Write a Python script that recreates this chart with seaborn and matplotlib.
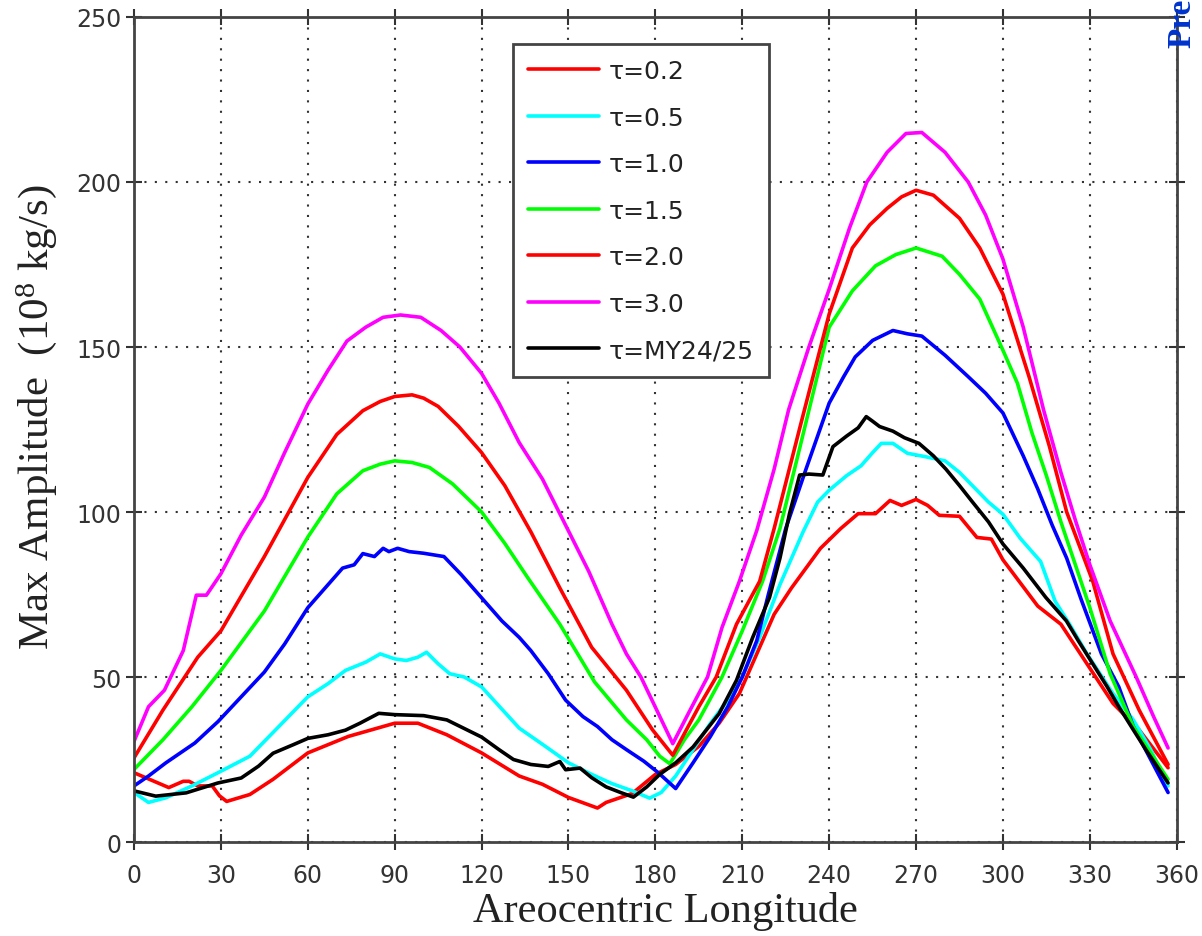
import numpy as np
import pandas as pd
import matplotlib
matplotlib.use("Agg")
import matplotlib.pyplot as plt
import seaborn as sns

# ---------------- data ----------------
labels = ["τ=0.2", "τ=0.5", "τ=1.0", "τ=1.5", "τ=2.0", "τ=3.0", "τ=MY24/25"]
colors = ["#ff0000", "#00ffff", "#0000ff", "#00ff00", "#ff0000", "#ff00ff", "#000000"]

tau02_x = [0, 4, 12, 17, 19, 22, 27, 29.5, 32, 40, 48, 60, 74, 90, 98, 108, 120, 133, 141, 150, 160, 163, 172, 180, 187, 195, 202, 209, 215, 221, 227, 237, 244, 250, 256, 261, 265, 270, 274, 278, 285, 291, 296, 300, 312, 320, 329, 338, 347, 357]
tau02_y = [21, 19.5, 16.5, 18.4, 18.4, 17, 17, 14, 12.3, 14.4, 19, 27, 32, 36, 36, 32.5, 27, 20, 17.5, 13.5, 10.3, 12, 14.7, 20.5, 23.5, 29, 36, 45, 57, 69, 77, 89, 95, 99.5, 99.5, 103.5, 102, 103.8, 102, 99, 98.7, 92.3, 91.8, 85.5, 71.5, 66, 54, 42, 34, 22.5]

tau05_x = [0, 5, 11, 20, 29, 40, 50, 60, 67, 73, 80, 85, 90, 94, 98, 101, 105, 109, 114, 120, 133, 142, 150, 158, 165, 172, 178, 182, 187, 193, 199, 205, 210, 216, 223, 231, 236, 240, 246, 251, 255, 258, 262, 267, 273, 280, 285, 290, 295, 300, 306, 313, 318, 323, 329, 338, 345, 351, 357]
tau05_y = [15, 12, 13.4, 17, 21, 26, 35, 44, 48, 52, 54.5, 57, 55.5, 55, 56, 57.5, 54, 51, 50, 47, 34.5, 29, 24, 20.5, 17.7, 15.5, 13.3, 15, 20, 28, 36, 43, 50, 62, 78, 94, 103, 106.6, 111, 114, 118, 120.8, 120.8, 117.8, 116.8, 115.5, 112, 107.5, 103, 99.3, 92, 85, 73, 66, 57, 45, 37, 28, 17]

tau10_x = [0, 5, 11, 21, 29, 37, 45, 52, 60, 66, 72, 76, 79, 83, 86, 88, 91, 95, 100, 107, 113, 120, 127, 133, 137, 143, 149, 155, 160, 165, 170, 176, 181, 187, 193, 199, 205, 210, 215, 219, 225, 232, 240, 245, 249, 255, 262, 267, 272, 280, 288, 294, 300, 307, 312, 317, 322, 327, 334, 340, 345, 351, 357]
tau10_y = [17, 20, 24, 30, 36.5, 44, 51.5, 60, 71, 77, 83, 84, 87.4, 86.5, 89, 88, 89, 88, 87.5, 86.5, 81, 74, 67, 62, 58, 51, 43, 38, 35, 31, 28, 24.5, 21, 16.2, 24, 32, 41, 50, 61, 75, 95, 113, 133, 141, 147, 152, 155, 154, 153.3, 147.5, 141, 136, 130, 117, 107, 96, 86, 73.5, 57, 47, 35, 25, 15]

tau15_x = [0, 10, 20, 30, 45, 60, 70, 79, 85, 90, 96, 102, 110, 120, 128, 136, 147, 159, 170, 177, 181.5, 185, 190, 195, 203, 210, 217, 223, 230, 240, 248, 256, 263, 270, 279, 285, 292, 300, 305, 310, 315, 320, 325, 330, 337, 345, 351, 357]
tau15_y = [22, 31, 41, 52, 70, 92.4, 105.5, 112.5, 114.5, 115.5, 115, 113.5, 108.5, 100, 90.5, 80, 66, 48.5, 37, 31, 26, 23.7, 31, 37, 50, 64, 79, 95, 120, 156, 167, 174.6, 178, 180, 177.5, 172, 164.5, 149, 139, 124, 111, 97, 84, 71, 51, 35, 27, 19]

tau20_x = [0, 10, 22, 30, 45, 60, 70, 79, 85, 90, 96, 100, 105, 112, 120, 128, 137, 147, 158, 170, 179, 186, 195, 201, 208, 216, 221, 230, 240, 248, 254, 260, 265, 270, 276, 285, 292, 300, 309, 316, 322, 331, 338, 347, 357]
tau20_y = [25.5, 40, 56, 64, 86.5, 110.5, 123.5, 130.7, 133.5, 135, 135.5, 134.5, 132, 126, 118, 108, 94, 77, 59, 46, 34, 26.3, 41, 50, 66, 79, 95, 126, 160, 180, 187, 192, 195.5, 197.5, 196, 189, 180, 166, 141, 120, 100, 79, 57, 40, 23.5]

tau30_x = [0, 5, 10.5, 17, 21.5, 25, 30, 37, 45, 52, 60, 67, 73.5, 80, 86, 92, 99, 106, 112.5, 120, 126, 133, 141, 149, 157, 165, 170, 175, 181, 186, 192, 198, 203, 209, 215, 221, 226, 233, 240, 247, 253, 260, 266.5, 272, 280, 288, 294, 300, 307, 314, 320, 325, 330, 337, 346, 352, 357]
tau30_y = [30.5, 41, 46, 58, 74.8, 74.8, 81.3, 93, 104.5, 118, 132.7, 143, 151.8, 156, 159, 159.7, 159, 155, 150, 142, 133, 121, 110, 96, 82, 66, 57, 50, 39, 29.8, 40, 50, 65, 79, 94.4, 113, 131, 150, 167.5, 186, 200, 209, 214.7, 215, 209, 200, 190, 176.6, 156, 131, 112, 97.5, 84, 67, 50, 38, 28.5]

my_x = [0, 7.5, 18, 29, 37, 43, 48, 55, 60, 67, 73, 78, 84.5, 90, 100, 108, 114, 120, 126, 131, 137, 143, 147, 149, 154, 158, 163, 168, 172.4, 177, 181.5, 187, 193, 202, 208, 213.6, 219.4, 223, 226.3, 229.8, 233, 237.8, 241.3, 246, 250, 252.8, 255, 257.4, 262, 266, 271, 276, 280.3, 285, 289.5, 295, 300, 307, 314.8, 321.9, 326, 331, 336, 340, 345, 349.4, 357]
my_y = [15.5, 13.9, 14.9, 17.9, 19.4, 23, 26.9, 29.5, 31.4, 32.5, 33.9, 36, 39, 38.6, 38.3, 37, 34.4, 31.8, 28, 25, 23.5, 22.9, 24.4, 21.9, 22.4, 19.5, 16.7, 15, 13.6, 16.7, 20.5, 24, 28.8, 38.9, 49, 62, 74.1, 86, 99.5, 111.2, 111.5, 111.2, 119.8, 123, 125.5, 128.9, 127.5, 125.9, 124.5, 122.5, 120.8, 117, 113, 108, 103, 97, 90.3, 83, 74.1, 67, 61, 54, 47, 41, 34, 27.9, 17.9]

x_ticks = list(range(0, 361, 30))
y_ticks = list(range(0, 251, 50))

# ---------------- build long-form table ----------------
series_xy = [(tau02_x, tau02_y), (tau05_x, tau05_y), (tau10_x, tau10_y),
             (tau15_x, tau15_y), (tau20_x, tau20_y), (tau30_x, tau30_y),
             (my_x, my_y)]
frames = []
for lab, (xs, ys) in zip(labels, series_xy):
    frames.append(pd.DataFrame({"Ls": xs, "amp": ys, "series": lab}))
df = pd.concat(frames, ignore_index=True)

# ---------------- plot ----------------
sns.set_theme(style="white")
plt.rcParams["font.family"] = ["DejaVu Sans"]
plt.rcParams["mathtext.fontset"] = "custom"
plt.rcParams["mathtext.rm"] = "Liberation Serif"
plt.rcParams["mathtext.it"] = "Liberation Serif:italic"

fig = plt.figure(figsize=(12.02, 9.37), dpi=100)
ax = fig.add_axes([0.1115, 0.1003, 0.8675, 0.8805])

palette = dict(zip(labels, colors))
sns.lineplot(data=df, x="Ls", y="amp", hue="series", hue_order=labels,
             palette=palette, estimator=None, sort=False, linewidth=2.6,
             ax=ax)

ax.set_xlim(0, 360)
ax.set_ylim(0, 250)
ax.set_xticks(x_ticks)
ax.set_yticks(y_ticks)
ax.tick_params(axis="both", which="both", direction="inout", length=12,
               width=1.5, color="#333333", labelsize=17, labelcolor="#333333",
               top=True, right=True, bottom=True, left=True)
ax.tick_params(axis="x", pad=9)
ax.tick_params(axis="y", pad=3)
for sp in ax.spines.values():
    sp.set_color("#444444")
    sp.set_linewidth(2)
ax.grid(True, linestyle=(0, (1, 4)), color="#333333", linewidth=1.5)

ax.set_xlabel("Areocentric Longitude", family="Liberation Serif",
              fontsize=30.5, color="#222222", labelpad=3)
ax.xaxis.label.set_x(0.51)
ax.set_ylabel(r"Max Amplitude  (10$^{8}$ kg/s)", family="Liberation Serif",
              fontsize=31, color="#222222")
ax.yaxis.set_label_coords(-0.072, 0.516)

handles, labs = ax.get_legend_handles_labels()
leg = ax.legend(handles, labs, loc="upper left", bbox_to_anchor=(0.363, 0.967),
                prop={"family": "DejaVu Sans", "size": 18},
                frameon=True, fancybox=False, framealpha=1,
                edgecolor="#444444", handlelength=2.85, handletextpad=0.4,
                labelspacing=0.9, borderpad=0.6, borderaxespad=0)
leg.get_frame().set_linewidth(2)
for t in leg.get_texts():
    t.set_color("#222222")

fig.text(0.970, 1 - 48 / 937, "Pre", rotation=90, ha="left", va="bottom",
         family="Liberation Serif", fontweight="bold", fontsize=24,
         color="#0033cc")

fig.savefig("out.png", dpi=100)
